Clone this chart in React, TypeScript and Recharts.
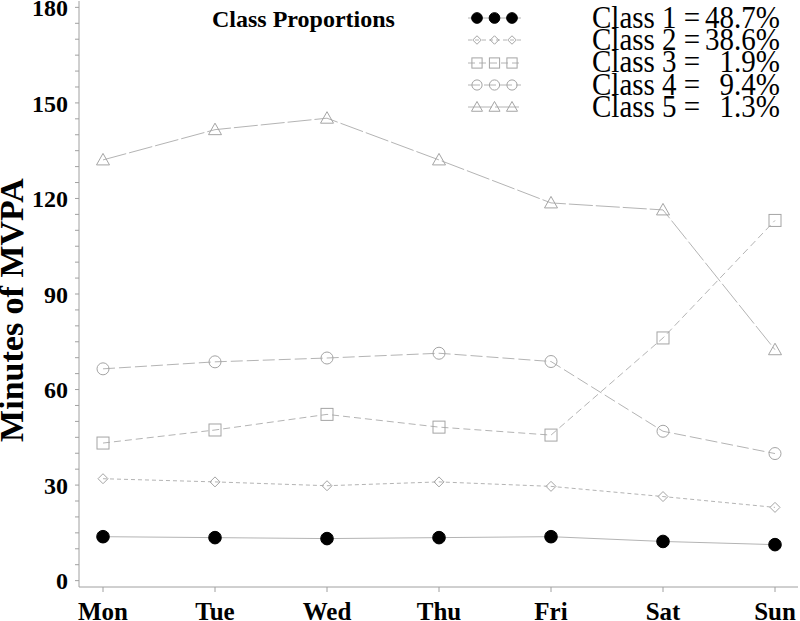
import React from 'react';
import { LineChart, Line, XAxis, YAxis } from 'recharts';

const days = ['Mon', 'Tue', 'Wed', 'Thu', 'Fri', 'Sat', 'Sun'];
const class1 = [13.8, 13.5, 13.2, 13.5, 13.8, 12.3, 11.3];
const class2 = [32.0, 31.0, 29.8, 31.0, 29.6, 26.4, 23.0];
const class3 = [43.2, 47.3, 52.2, 48.2, 45.7, 76.2, 113.1];
const class4 = [66.5, 68.7, 69.9, 71.4, 68.8, 46.9, 39.9];
const class5 = [132.1, 141.6, 145.2, 132.1, 118.6, 116.4, 72.5];
const classNames = ['Class 1 =', 'Class 2 =', 'Class 3 =', 'Class 4 =', 'Class 5 ='];
const proportions = ['48.7%', '38.6%', '1.9%', '9.4%', '1.3%'];
const yTicks = Array.from({ length: 37 }, (_, i) => i * 5);

const data = days.map((day, i) => ({
  day,
  c1: class1[i],
  c2: class2[i],
  c3: class3[i],
  c4: class4[i],
  c5: class5[i],
}));

const FONT = '"Liberation Serif", "Times New Roman", serif';
const LINE = '#b4b4b4';
const MARK = '#a4a4a4';

// marker shapes, drawn at (cx, cy)
const marker = (kind: string, cx: number, cy: number, s = 1) => {
  if (kind === 'c1') return <circle cx={cx} cy={cy} r={6.3 * s} fill="#000" stroke="#000" />;
  if (kind === 'c2') {
    const h = 5 * s;
    return (
      <path
        d={`M${cx},${cy - h}L${cx + h},${cy}L${cx},${cy + h}L${cx - h},${cy}Z`}
        fill="none"
        stroke={MARK}
      />
    );
  }
  if (kind === 'c3') {
    const h = 6 * s;
    return <rect x={cx - h} y={cy - h} width={2 * h} height={2 * h} fill="none" stroke={MARK} />;
  }
  if (kind === 'c4') return <circle cx={cx} cy={cy} r={6 * s} fill="none" stroke={MARK} />;
  const w = 6.5 * s;
  return (
    <path
      d={`M${cx},${cy - 6.5 * s}L${cx + w},${cy + 5 * s}L${cx - w},${cy + 5 * s}Z`}
      fill="none"
      stroke={MARK}
    />
  );
};

const dotFor = (kind: string) => (props: any) => (
  <g key={`${kind}-${props.index}`}>{marker(kind, props.cx, props.cy)}</g>
);

const series = [
  { key: 'c1', dash: undefined },
  { key: 'c2', dash: '4 3' },
  { key: 'c3', dash: '7 4' },
  { key: 'c4', dash: '12 4' },
  { key: 'c5', dash: '24 3' },
];

const YTick = (props: any) => {
  const { x, y, payload } = props;
  if (payload.value % 30 !== 0) return null;
  return (
    <text x={x} y={y} dy="0.36em" textAnchor="end" fontFamily={FONT} fontWeight="bold" fontSize={24} fill="#000">
      {payload.value}
    </text>
  );
};

const YLabel = (props: any) => {
  const vb = props.viewBox || { x: 0, y: 0, height: 586 };
  const cx = vb.x + 23;
  const cy = vb.y + vb.height / 2 + 16;
  return (
    <text
      transform={`translate(${cx},${cy}) rotate(-90)`}
      textAnchor="middle"
      fontFamily={FONT}
      fontWeight="bold"
      fontSize={34}
      fill="#000"
    >
      Minutes of MVPA
    </text>
  );
};

const rowY = [18, 40, 63, 85, 107];
const baseY = [28, 50, 72, 94.5, 117];
const markX = [477, 494.5, 512];

const App = () => {
  return (
    <div style={{ position: 'relative', width: 800, height: 621 }}>
      <style>{'body{margin:0}'}</style>
      <LineChart width={800} height={621} data={data} margin={{ top: 1, right: 2, bottom: 0, left: 0 }}>
        <XAxis
          dataKey="day"
          height={34}
          padding={{ left: 24, right: 23 }}
          stroke="#a0a0a0"
          tickSize={5}
          tickMargin={10}
          tick={{ fontFamily: FONT, fontWeight: 'bold', fontSize: 25, fill: '#000' }}
        />
        <XAxis
          xAxisId="top"
          orientation="top"
          dataKey="day"
          height={0}
          tick={false}
          tickLine={false}
          stroke="#a0a0a0"
        />
        <YAxis
          width={79}
          domain={[-2, 182]}
          ticks={yTicks}
          interval={0}
          tickSize={4}
          tickMargin={7}
          stroke="#a0a0a0"
          tick={<YTick />}
          label={<YLabel />}
        />
        <YAxis yAxisId="right" orientation="right" width={0} tick={false} tickLine={false} stroke="#a0a0a0" />
        {series.map((s) => (
          <Line
            key={s.key}
            dataKey={s.key}
            stroke={LINE}
            strokeWidth={1}
            strokeDasharray={s.dash}
            dot={dotFor(s.key)}
            activeDot={false}
            isAnimationActive={false}
          />
        ))}
      </LineChart>
      <svg
        width={800}
        height={130}
        style={{ position: 'absolute', left: 0, top: 0, pointerEvents: 'none' }}
      >
        <text x={212} y={27} fontFamily={FONT} fontWeight="bold" fontSize={24} fill="#000">
          Class Proportions
        </text>
        {series.map((s, i) => (
          <g key={s.key}>
            <line x1={468} x2={521} y1={rowY[i]} y2={rowY[i]} stroke={LINE} strokeDasharray={s.dash} />
            {markX.map((mx) => (
              <g key={mx}>{marker(s.key, mx, rowY[i], 0.85)}</g>
            ))}
            <g transform={`translate(0,${baseY[i]}) scale(1,1.08)`}>
              <text x={592} y={0} fontFamily={FONT} fontSize={29} fill="#000">
                {classNames[i]}
              </text>
              <text x={780} y={0} textAnchor="end" fontFamily={FONT} fontSize={29} fill="#000">
                {proportions[i]}
              </text>
            </g>
          </g>
        ))}
      </svg>
    </div>
  );
};

export default App;
